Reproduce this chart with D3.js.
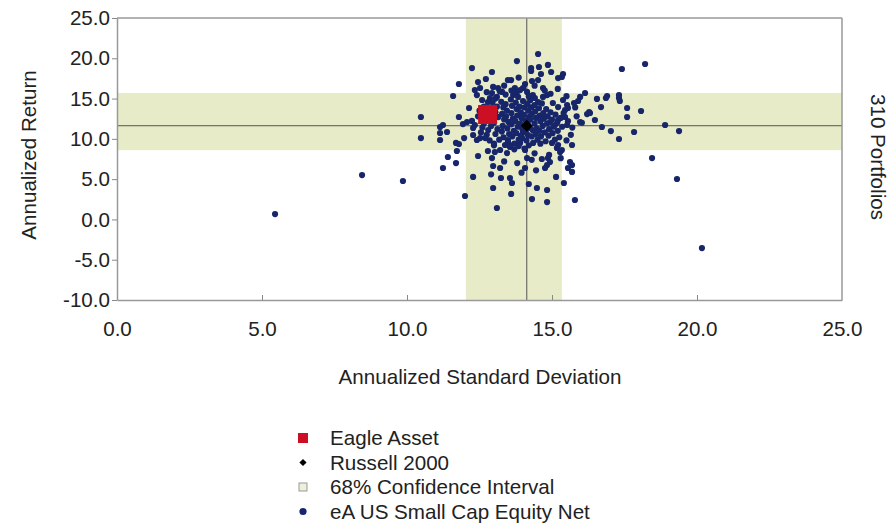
<!DOCTYPE html>
<html>
<head>
<meta charset="utf-8">
<script src="https://cdn.jsdelivr.net/npm/d3@7"></script>
<style>
  html, body { margin: 0; padding: 0; background: #ffffff; }
  svg { display: block; }
  text { font-family: "Liberation Sans", Arial, sans-serif; fill: #222; }
</style>
</head>
<body>
<svg id="chart" width="892" height="524"></svg>
<script>
// ---------------- DATA ----------------
const xTickValues = [0, 5, 10, 15, 20, 25];
const yTickValues = [-10, -5, 0, 5, 10, 15, 20, 25];
const xTitle = "Annualized Standard Deviation";
const yTitle = "Annualized Return";
const rightTitle = "310 Portfolios";

const legendLabels = ["Eagle Asset", "Russell 2000", "68% Confidence Interval", "eA US Small Cap Equity Net"];

const eagleAsset = [12.78, 13.02];     // [std dev, return]
const russell2000 = [14.13, 11.63];    // [std dev, return]
const ciStdDev = [12.03, 15.34];       // 68% confidence interval (x)
const ciReturn = [8.6, 15.7];          // 68% confidence interval (y)

const peerStdDev = [
 5.45, 8.45, 9.86, 20.17, 18.21, 17.41, 19.31, 18.45, 19.38, 18.9,
 18.07, 17.59, 17.59, 17.31, 17.31, 17.34, 16.9, 16.86, 16.69, 16.55,
 16.14, 16.28, 16.21, 16.72, 17.03, 17.31, 17.83, 15.97, 15.97, 10.48,
 10.48, 11.14, 11.14, 11.38, 11.14, 11.24, 11.41, 11.24, 11.69, 11.72,
 11.69, 11.79, 11.97, 12.0, 12.28, 12.45, 12.28, 12.28, 12.41, 12.52,
 12.79, 12.93, 13.03, 13.21, 13.38, 13.45, 13.55, 13.48, 12.97, 13.21,
 13.24, 12.97, 13.1, 13.55, 13.62, 13.59, 14.07, 14.14, 14.07, 14.3,
 13.9, 13.97, 14.0, 14.17, 14.24, 14.86, 14.93, 14.83, 14.76, 15.17,
 15.21, 15.28, 15.34, 15.69, 15.62, 15.69, 15.69, 15.55, 15.14, 15.41,
 14.48, 14.83, 14.31, 14.83, 15.79, 14.52, 13.79, 14.28, 14.28, 14.55,
 14.86, 14.62, 14.97, 15.21, 15.34, 15.38, 13.59, 14.07, 14.0, 13.9,
 14.14, 14.31, 14.52, 14.69, 13.72, 13.79, 13.66, 13.83, 14.34, 14.41,
 14.52, 14.69, 14.83, 15.03, 15.21, 15.38, 15.52, 15.45, 15.55, 15.9,
 15.76, 16.31, 16.03, 16.48, 15.45, 15.52, 15.21, 15.1, 14.93, 12.24,
 12.93, 12.72, 12.45, 11.79, 12.34, 12.52, 12.97, 13.14, 13.28, 13.1,
 12.93, 13.48, 11.59, 12.41, 12.59, 12.79, 12.86, 12.14, 11.79, 11.93,
 12.07, 12.24, 12.34,
 13.25, 13.32, 13.28, 13.35, 13.3, 13.27, 13.33, 13.4, 13.45, 13.42,
 13.5, 13.46, 13.52, 13.48, 13.58, 13.62, 13.6, 13.65, 13.6, 13.68,
 13.63, 13.7, 13.75, 13.78, 13.8, 13.74, 13.82, 13.77, 13.85, 13.88,
 13.92, 13.95, 13.9, 13.98, 13.93, 14.0, 14.05, 14.02, 14.08, 14.04,
 14.1, 14.12, 14.15, 14.18, 14.2, 14.16, 14.25, 14.28, 14.3, 14.26,
 14.33, 14.3, 14.35, 14.4, 14.42, 14.45, 14.4, 14.48, 14.44, 14.5,
 14.55, 14.58, 14.6, 14.57, 14.62, 14.65, 14.7, 14.72, 14.68, 14.75,
 14.78, 14.8, 14.85, 14.83, 14.9, 14.88, 14.95, 15.0, 15.05, 15.02,
 15.1, 15.12, 15.18, 15.2, 15.25, 15.3, 13.55, 13.85, 14.2, 14.6,
 15.0, 14.05, 13.7, 13.1, 13.05, 13.15, 13.0, 13.12, 13.05, 13.18,
 12.95, 12.9, 12.8, 12.75, 12.85, 12.65, 12.6, 12.7, 12.55, 12.65,
 12.5, 12.45, 12.6, 12.95, 13.4, 13.2, 13.6, 13.35, 13.85, 14.4,
 14.75, 14.2, 14.95, 15.2, 15.5, 13.05, 12.75, 15.4, 15.55, 15.7,
 15.8, 15.65, 15.85, 15.5, 15.35, 13.0, 13.8, 14.4, 14.65, 13.95,
 14.45, 13.35, 14.9, 15.3, 12.9, 14.2, 13.0
];

const peerReturn = [
 0.67, 5.5, 4.77, -3.55, 19.29, 18.67, 5.02, 7.62, 10.97, 11.72,
 13.46, 13.83, 12.71, 15.44, 15.07, 14.7, 15.32, 15.07, 13.95, 14.95,
 15.69, 13.33, 13.08, 11.47, 10.97, 9.98, 10.85, 12.09, 15.2, 12.71,
 10.1, 9.86, 10.73, 10.85, 11.47, 11.72, 7.75, 6.38, 7.0, 8.49,
 9.49, 9.36, 10.1, 2.91, 5.27, 7.87, 11.35, 10.48, 9.86, 10.1,
 8.49, 7.62, 8.37, 8.62, 9.24, 8.24, 8.99, 9.86, 6.63, 6.38,
 5.14, 3.9, 1.42, 5.14, 4.52, 3.16, 8.62, 7.62, 6.38, 7.4,
 9.49, 10.1, 10.85, 10.48, 11.35, 7.62, 7.13, 6.75, 6.38, 8.87,
 9.24, 8.37, 8.62, 9.24, 7.13, 6.75, 5.89, 6.38, 5.27, 4.52,
 3.9, 3.65, 2.53, 2.16, 2.41, 20.53, 19.66, 18.79, 18.42, 18.92,
 19.17, 18.05, 18.3, 17.55, 17.68, 18.05, 17.3, 16.81, 16.31, 16.06,
 15.82, 17.18, 17.3, 16.31, 16.31, 15.82, 15.44, 15.2, 15.44, 15.07,
 14.57, 15.2, 15.44, 14.45, 13.95, 14.82, 14.2, 13.58, 13.83, 14.7,
 14.45, 13.21, 12.0, 12.34, 12.71, 11.72, 12.34, 11.72, 12.09, 18.79,
 18.3, 17.43, 17.05, 16.81, 16.06, 16.31, 16.44, 16.31, 15.82, 15.2,
 15.69, 17.3, 15.32, 15.44, 14.82, 14.57, 15.07, 13.83, 12.71, 11.84,
 12.09, 12.22, 11.72,
 14.6, 13.9, 13.1, 12.4, 11.6, 10.9, 10.2, 14.3, 13.5, 12.8,
 12.1, 11.3, 10.6, 9.6, 14.9, 14.1, 13.2, 12.5, 11.8, 11.0,
 10.3, 9.4, 14.5, 13.7, 12.9, 12.2, 11.5, 10.7, 9.9, 14.0,
 13.3, 12.6, 11.9, 11.2, 10.4, 14.7, 13.9, 13.0, 12.3, 11.5,
 10.8, 9.8, 14.3, 13.5, 12.7, 12.0, 14.8, 13.9, 13.1, 12.4,
 11.1, 10.3, 9.5, 14.2, 13.4, 12.6, 11.9, 11.3, 10.6, 9.9,
 13.8, 12.9, 12.2, 11.0, 10.3, 14.4, 13.2, 12.5, 11.6, 10.8,
 9.7, 13.7, 12.8, 11.9, 11.2, 10.4, 13.3, 12.4, 11.5, 10.7,
 9.9, 13.0, 12.0, 11.0, 10.2, 12.6, 9.2, 9.1, 9.2, 9.4,
 9.5, 8.8, 8.7, 14.0, 13.3, 12.7, 12.0, 11.2, 10.6, 9.9,
 14.5, 11.6, 11.1, 10.5, 9.8, 11.9, 11.4, 10.1, 10.8, 14.0,
 13.5, 12.8, 12.5, 13.6, 15.5, 15.9, 16.0, 16.6, 17.6, 16.6,
 16.0, 15.3, 15.6, 16.2, 15.3, 15.0, 15.8, 13.2, 12.2, 11.4,
 13.9, 10.5, 12.8, 9.8, 11.5, 9.2, 7.0, 8.2, 7.5, 5.8,
 6.1, 7.2, 8.0, 7.6, 5.6, 4.4, 9.4
];

// ---------------- CHART ----------------
const svg = d3.select("#chart");
const plot = { left: 117, right: 842, top: 18, bottom: 300 };
const fontSize = "20.6px";

const x = d3.scaleLinear().domain([0, 25]).range([plot.left, plot.right]);
const y = d3.scaleLinear().domain([-10, 25]).range([plot.bottom, plot.top]);

const bandColor = "#e8ebc7";
const dotColor = "#17256a";

// Confidence interval bands
svg.append("rect")
  .attr("x", x(ciStdDev[0])).attr("y", plot.top)
  .attr("width", x(ciStdDev[1]) - x(ciStdDev[0]))
  .attr("height", plot.bottom - plot.top)
  .attr("fill", bandColor);
svg.append("rect")
  .attr("x", plot.left).attr("y", y(ciReturn[1]))
  .attr("width", plot.right - plot.left)
  .attr("height", y(ciReturn[0]) - y(ciReturn[1]))
  .attr("fill", bandColor);

// Russell crosshair lines
svg.append("line")
  .attr("x1", x(russell2000[0])).attr("x2", x(russell2000[0]))
  .attr("y1", plot.top).attr("y2", plot.bottom)
  .attr("stroke", "#555").attr("stroke-width", 1);
svg.append("line")
  .attr("x1", plot.left).attr("x2", plot.right)
  .attr("y1", y(russell2000[1])).attr("y2", y(russell2000[1]))
  .attr("stroke", "#555").attr("stroke-width", 1);

// Peer dots
const peers = peerStdDev.map((sd, i) => ({ sd, ret: peerReturn[i] }));
svg.append("g").selectAll("circle").data(peers).join("circle")
  .attr("cx", d => x(d.sd))
  .attr("cy", d => y(d.ret))
  .attr("r", 3.1)
  .attr("fill", dotColor);

// Eagle Asset square
const eSize = 19;
svg.append("rect")
  .attr("x", x(eagleAsset[0]) - eSize / 2)
  .attr("y", y(eagleAsset[1]) - eSize / 2)
  .attr("width", eSize).attr("height", eSize)
  .attr("fill", "#cc0f22");

// Russell diamond (rotated square)
svg.append("path")
  .attr("d", d3.symbol().type(d3.symbolSquare).size(72)())
  .attr("transform", `translate(${x(russell2000[0])},${y(russell2000[1])}) rotate(45)`)
  .attr("fill", "#000");

// Axes
const fmt = d => d.toFixed(1);
const yAxis = svg.append("g")
  .attr("transform", `translate(${plot.left},0)`)
  .call(d3.axisLeft(y).tickValues(yTickValues).tickFormat(fmt).tickSize(5).tickSizeOuter(0).tickPadding(2));
const xAxis = svg.append("g")
  .attr("transform", `translate(0,${plot.bottom})`)
  .call(d3.axisBottom(x).tickValues(xTickValues).tickFormat(fmt).tickSize(-5).tickSizeOuter(0).tickPadding(21));

[xAxis, yAxis].forEach(g => {
  g.select(".domain").attr("stroke", "#999").attr("stroke-width", 1.5);
  g.selectAll(".tick line").attr("stroke", "#888");
  g.selectAll(".tick text")
    .attr("fill", "#222")
    .style("font-size", fontSize)
    .style("font-family", '"Liberation Sans", Arial, sans-serif');
});
xAxis.selectAll(".tick").filter(d => d === 0 || d === 25).select("line").remove();

// Top and right frame
svg.append("line")
  .attr("x1", plot.left).attr("x2", plot.right)
  .attr("y1", plot.top).attr("y2", plot.top)
  .attr("stroke", "#999").attr("stroke-width", 1.5);
svg.append("line")
  .attr("x1", plot.right).attr("x2", plot.right)
  .attr("y1", plot.top).attr("y2", plot.bottom)
  .attr("stroke", "#999").attr("stroke-width", 1.5);

// Titles
svg.append("text")
  .attr("x", 480).attr("y", 384)
  .attr("text-anchor", "middle")
  .style("font-size", fontSize)
  .text(xTitle);
svg.append("text")
  .attr("transform", `translate(36,${(plot.top + plot.bottom) / 2 - 4}) rotate(-90)`)
  .attr("text-anchor", "middle")
  .style("font-size", fontSize)
  .text(yTitle);
svg.append("text")
  .attr("transform", `translate(871,${(plot.top + plot.bottom) / 2 - 2}) rotate(90)`)
  .attr("text-anchor", "middle")
  .style("font-size", fontSize)
  .text(rightTitle);

// Legend
const legX = 303, legTextX = 330, legY0 = 438, legStep = 24.5;
const leg = svg.append("g");
legendLabels.forEach((label, i) => {
  const cy = legY0 + i * legStep;
  if (i === 0) {
    leg.append("rect").attr("x", legX - 5).attr("y", cy - 5).attr("width", 10).attr("height", 10).attr("fill", "#cc0f22");
  } else if (i === 1) {
    leg.append("path").attr("d", d3.symbol().type(d3.symbolSquare).size(26)())
      .attr("transform", `translate(${legX},${cy}) rotate(45)`).attr("fill", "#000");
  } else if (i === 2) {
    leg.append("rect").attr("x", legX - 4).attr("y", cy - 4).attr("width", 8).attr("height", 8)
      .attr("fill", "#eef0da").attr("stroke", "#999").attr("stroke-width", 1);
  } else {
    leg.append("circle").attr("cx", legX).attr("cy", cy).attr("r", 3.6).attr("fill", dotColor);
  }
  leg.append("text")
    .attr("x", legTextX).attr("y", cy + 7)
    .style("font-size", fontSize)
    .text(label);
});
</script>
</body>
</html>
